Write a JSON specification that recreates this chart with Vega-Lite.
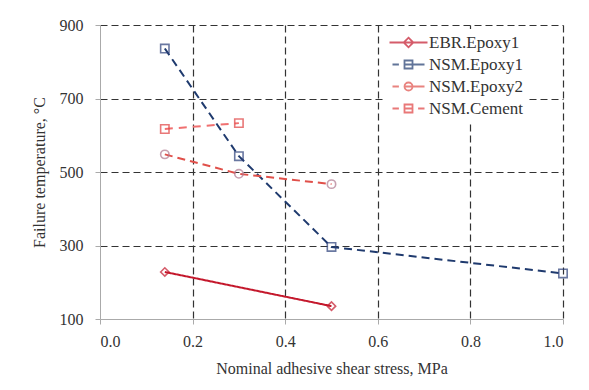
{
  "$schema": "https://vega.github.io/schema/vega-lite/v6.json",
  "width": 463,
  "height": 294,
  "autosize": "none",
  "padding": {"left": 100, "top": 25, "right": 26, "bottom": 71},
  "background": "white",
  "config": {
    "font": "'Liberation Serif', 'Times New Roman', 'DejaVu Serif', serif",
    "view": {"stroke": null},
    "axis": {
      "labelFont": "'Liberation Serif', 'Times New Roman', 'DejaVu Serif', serif",
      "titleFont": "'Liberation Serif', 'Times New Roman', 'DejaVu Serif', serif",
      "labelFontSize": 16,
      "titleFontSize": 16,
      "titleFontWeight": "normal",
      "labelColor": "#333",
      "titleColor": "#333",
      "domainColor": "#aaa",
      "tickColor": "#aaa",
      "tickSize": 5,
      "gridColor": "#333",
      "gridDash": [7, 4],
      "gridWidth": 1.2
    },
    "legend": {
      "labelFont": "'Liberation Serif', 'Times New Roman', 'DejaVu Serif', serif",
      "labelFontSize": 17,
      "labelColor": "#333"
    }
  },
  "data": {
    "values": [
      {"x": 0.14, "y": 228, "series": "EBR.Epoxy1"},
      {"x": 0.5, "y": 135, "series": "EBR.Epoxy1"},
      {"x": 0.14, "y": 836, "series": "NSM.Epoxy1"},
      {"x": 0.3, "y": 543, "series": "NSM.Epoxy1"},
      {"x": 0.5, "y": 296, "series": "NSM.Epoxy1"},
      {"x": 1.0, "y": 224, "series": "NSM.Epoxy1"},
      {"x": 0.14, "y": 548, "series": "NSM.Epoxy2"},
      {"x": 0.3, "y": 495, "series": "NSM.Epoxy2"},
      {"x": 0.5, "y": 467, "series": "NSM.Epoxy2"},
      {"x": 0.14, "y": 617, "series": "NSM.Cement"},
      {"x": 0.3, "y": 633, "series": "NSM.Cement"}
    ]
  },
  "encoding": {
    "x": {
      "field": "x",
      "type": "quantitative",
      "scale": {"domain": [0, 1], "nice": false},
      "axis": {
        "values": [0, 0.2, 0.4, 0.6, 0.8, 1.0],
        "format": ".1f",
        "labelPadding": 9,
        "title": "Nominal adhesive shear stress, MPa",
        "titlePadding": 11,
        "gridOpacity": {"condition": {"test": "datum.value === 0", "value": 0}, "value": 1}
      }
    },
    "y": {
      "field": "y",
      "type": "quantitative",
      "scale": {"domain": [100, 900], "nice": false},
      "axis": {
        "values": [100, 300, 500, 700, 900],
        "title": "Failure temperature, °C",
        "labelPadding": 12,
        "titlePadding": 12,
        "gridOpacity": {"condition": {"test": "datum.value === 100", "value": 0}, "value": 1}
      }
    }
  },
  "layer": [
    {
      "mark": {"type": "line", "strokeWidth": 2},
      "encoding": {
        "color": {
          "field": "series",
          "type": "nominal",
          "scale": {"domain": ["EBR.Epoxy1", "NSM.Epoxy1", "NSM.Epoxy2", "NSM.Cement"], "range": ["#C4182C", "#1F3A6E", "#E0504A", "#F07070"]},
          "legend": null
        },
        "strokeDash": {
          "field": "series",
          "type": "nominal",
          "scale": {"domain": ["EBR.Epoxy1", "NSM.Epoxy1", "NSM.Epoxy2", "NSM.Cement"], "range": [[1, 0], [8, 5], [8, 5], [8, 6]]},
          "legend": null
        }
      }
    },
    {
      "mark": {"type": "point", "filled": false, "size": 70, "strokeWidth": 1.6},
      "encoding": {
        "color": {
          "field": "series",
          "type": "nominal",
          "scale": {"domain": ["EBR.Epoxy1", "NSM.Epoxy1", "NSM.Epoxy2", "NSM.Cement"], "range": ["#C4182C", "#2B3F7A", "#B07890", "#E04040"]},
          "legend": null
        },
        "shape": {
          "field": "series",
          "type": "nominal",
          "scale": {"domain": ["EBR.Epoxy1", "NSM.Epoxy1", "NSM.Epoxy2", "NSM.Cement"], "range": ["diamond", "square", "circle", "square"]},
          "legend": null
        }
      }
    },
    {
      "transform": [{"filter": "false"}],
      "mark": {"type": "point", "filled": false, "strokeWidth": 1.8},
      "encoding": {
        "color": {
          "field": "series",
          "type": "nominal",
          "scale": {"domain": ["EBR.Epoxy1", "NSM.Epoxy1", "NSM.Epoxy2", "NSM.Cement"], "range": ["#C4182C", "#1F3A6E", "#E0504A", "#E04040"]},
          "legend": {
            "title": null,
            "orient": "none",
            "legendX": 283,
            "legendY": 4,
            "padding": 5,
            "fillColor": "white",
            "symbolSize": 64,
            "symbolOffset": 12,
            "labelOffset": 12,
            "rowPadding": 4,
            "symbolStrokeWidth": 1.8
          }
        },
        "shape": {
          "field": "series",
          "type": "nominal",
          "scale": {
            "domain": ["EBR.Epoxy1", "NSM.Epoxy1", "NSM.Epoxy2", "NSM.Cement"],
            "range": [
              "M-4.75,0H4.75M0,-1.2L1.2,0L0,1.2L-1.2,0Z",
              "M-4,0H-2.4M-1,0H4M-1,-1H1V1H-1Z",
              "M-4,0H-2.4M-1,0H4M1,0A1,1,0,1,1,-1,0A1,1,0,1,1,1,0Z",
              "M-4,0H-2.4M-1,0H1M2.4,0H4M-1,-1H1V1H-1Z"
            ]
          },
          "legend": {
            "title": null,
            "orient": "none",
            "legendX": 283,
            "legendY": 4
          }
        }
      }
    }
  ],
  "resolve": {"scale": {"color": "independent", "shape": "independent", "strokeDash": "independent"}}
}
